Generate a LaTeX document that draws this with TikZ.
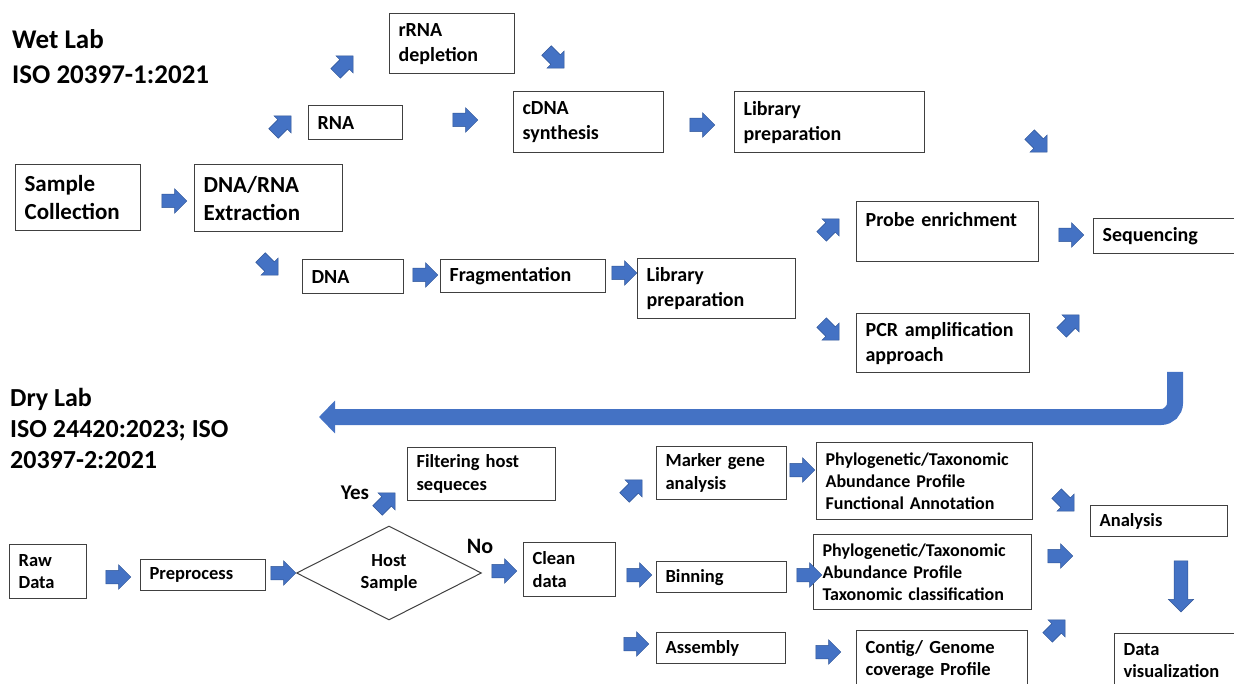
\documentclass[tikz,border=0pt]{standalone}
\usepackage{fontspec}
\setmainfont{Carlito}
\usepackage{tikz}
\usetikzlibrary{shapes.arrows,shapes.geometric,arrows.meta}
\usepackage{xcolor}
\definecolor{flowblue}{HTML}{4472C4}
\definecolor{flowedge}{HTML}{2F5597}
\definecolor{boxline}{HTML}{404040}

\begin{document}
\begin{tikzpicture}[x=1pt, y=-1pt,
  box/.style={draw=boxline, line width=1.2pt, anchor=north west, align=left,
    inner xsep=9pt, inner ysep=0pt, font=\bfseries\fontsize{20}{25}\selectfont},
  big/.style={font=\bfseries\fontsize{23}{28}\selectfont},
  dry/.style={font=\bfseries\fontsize{18.5}{22.5}\selectfont},
  phylo/.style={font=\bfseries\fontsize{18}{21.7}\selectfont},
  title/.style={anchor=north west, align=left, inner sep=0pt,
    font=\bfseries\fontsize{26}{31}\selectfont},
  flow/.style={single arrow, fill=flowblue, draw=flowedge, line width=0.5pt,
    inner xsep=0pt, inner ysep=6.5pt, single arrow head extend=5.5pt,
    minimum height=25pt, minimum width=24pt}]
  \useasboundingbox (0,0) rectangle (1234,684);

  % wet lab
  \node[title, font=\bfseries\fontsize{27}{35}\selectfont] (wetlab) at (12,29) {Wet Lab\\ISO 20397-1:2021};
  \node[box, text width=107pt, minimum height=60pt] (rrna) at (389,13) {rRNA\\depletion};
  \node[box, text width=76pt, minimum height=34pt] (rna) at (308,105) {RNA};
  \node[box, text width=132pt, minimum height=61pt] (cdna) at (513,91) {cDNA\\synthesis};
  \node[box, text width=172pt, minimum height=61pt] (libtop) at (734,91) {Library\\preparation};
  \node[box, big, text width=107pt, minimum height=66pt] (sample) at (15,164) {Sample\\Collection};
  \node[box, big, text width=130pt, minimum height=67pt] (extract) at (194,164) {DNA/RNA\\Extraction};
  \node[box, text width=83pt, minimum height=34pt] (dna) at (302,259) {DNA};
  \node[box, text width=147pt, minimum height=33pt] (frag) at (440,259) {Fragmentation};
  \node[box, text width=140pt, minimum height=60pt] (liblow) at (637,258) {Library\\preparation};
  \node[box, text width=164pt, minimum height=60pt] (probe) at (856,201) {Probe enrichment\\\mbox{}};
  \node[box, text width=155pt, minimum height=59pt] (pcr) at (856,313) {PCR amplification\\approach};
  \node[box, text width=139pt, minimum height=35pt] (seq) at (1093,218) {Sequencing};

  % wet lab -> dry lab
  \coordinate (bendtop) at (1175,372);
  \coordinate (drytip) at (319,417);
  \draw[flowblue, line width=16pt, rounded corners=14pt, -{Triangle[length=16pt, width=32pt]}]
    (bendtop) |- (drytip);

  % dry lab
  \node[title] (drylab) at (10,388) {Dry Lab\\ISO 24420:2023; ISO\\20397-2:2021};
  \node[box, dry, text width=130pt, minimum height=53pt] (filter) at (407,447) {Filtering host\\sequeces};
  \node[box, dry, text width=112pt, minimum height=53pt] (marker) at (656,446) {Marker gene\\analysis};
  \node[box, phylo, text width=198pt, minimum height=77pt] (phyloA) at (816,442) {Phylogenetic/Taxonomic\\Abundance Profile\\Functional Annotation};
  \node[box, dry, text width=119pt, minimum height=31pt] (analysis) at (1090,505) {Analysis};
  \node[box, dry, text width=59pt, minimum height=54pt] (raw) at (9,544) {Raw\\Data};
  \node[box, dry, text width=107pt, minimum height=31pt] (prep) at (140,559) {Preprocess};
  \node[diamond, draw=boxline, line width=1pt, aspect=2, minimum width=185pt, minimum height=94pt,
    inner sep=0pt, align=center, dry] (host) at (389,573) {Host\\Sample};
  \node[font=\bfseries\fontsize{21}{25}\selectfont] (yes) at (355,493) {Yes};
  \node[font=\bfseries\fontsize{22}{26}\selectfont] (no) at (480,546) {No};
  \node[box, dry, text width=74pt, minimum height=54pt] (clean) at (523,542) {Clean\\data};
  \node[box, dry, text width=112pt, minimum height=31pt] (binning) at (656,561) {Binning};
  \node[box, phylo, text width=200pt, minimum height=75pt] (phyloB) at (813,534) {Phylogenetic/Taxonomic\\Abundance Profile\\Taxonomic classification};
  \node[box, dry, text width=111pt, minimum height=31pt] (assembly) at (656,632) {Assembly};
  \node[box, dry, text width=153pt, minimum height=58pt] (contig) at (856,630) {Contig/ Genome\\coverage Profile};
  \node[box, dry, text width=108pt, minimum height=54pt] (dataviz) at (1114,633) {Data\\visualization};

  % block arrows: x/y/angle
  \foreach \ax/\ay/\ang [count=\i] in {171/201/0, 280/127/45, 342/67/45, 553/57/-45,
      462/120/0, 699/125/0, 1036/141/-45, 267/264/-45, 422/275/0, 621/273/0,
      828/230/45, 828/329/-45, 1068/235/0, 1068/326/45,
      115/577/0, 280/573/0, 384/504/45, 501/571/0, 631/491/45, 636/575/0,
      633/644/0, 799/470/0, 806/575/0, 825/652/0, 1063/500/-45, 1057/556/0, 1054/631/45}
    \node[flow, rotate=\ang] (flow\i) at (\ax,\ay) {};
  \node[flow, rotate=-90, minimum height=51pt, minimum width=25pt] (flowdown) at (1181,583) {};
\end{tikzpicture}
\end{document}
